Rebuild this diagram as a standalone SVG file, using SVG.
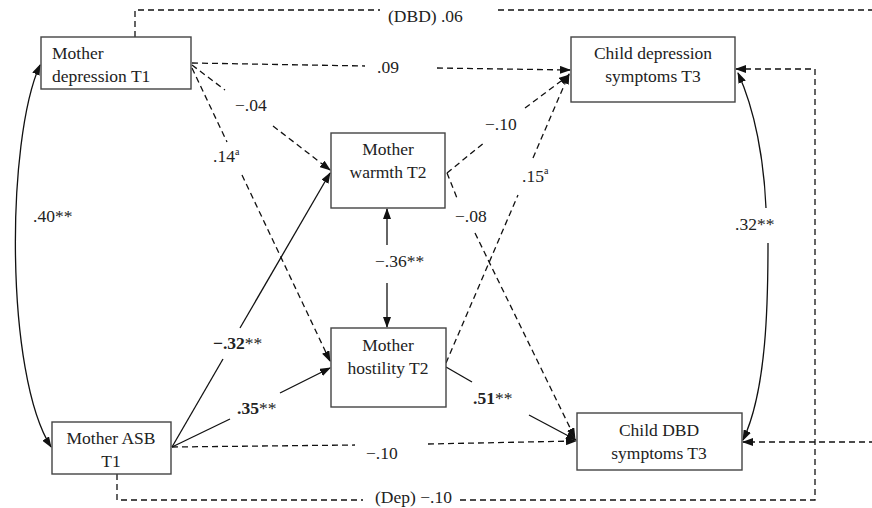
<svg xmlns="http://www.w3.org/2000/svg" width="872" height="508" viewBox="0 0 872 508" font-family="Liberation Serif, Times New Roman, Tinos, serif">
<defs>
<marker id="ah" markerWidth="11" markerHeight="8" refX="10" refY="4" orient="auto-start-reverse" markerUnits="userSpaceOnUse">
<path d="M0,0 L11,4 L0,8 z" fill="#111"/>
</marker>
<style>
.box{fill:#fff;stroke:#444;stroke-width:1.4}
.t{font-size:17.5px;fill:#222}
.c{text-anchor:middle}
.b{font-weight:bold}
.n{font-weight:normal}
.sup{font-size:10px}
.s{fill:none;stroke:#111;stroke-width:1.3}
.d{fill:none;stroke:#111;stroke-width:1.3;stroke-dasharray:6,4}
</style>
</defs>
<rect width="872" height="508" fill="#fff"/>

<g id="connectors">
<path class="d" d="M135 37 V10 H380"/>
<path class="d" d="M498 10 H875"/>
<path class="d" d="M875 442 H743" marker-end="url(#ah)"/>
<path class="d" d="M117 474 V500 H363"/>
<path class="d" d="M460 500 H815 V69 H736" marker-end="url(#ah)"/>
<path class="s" d="M40 65 C6 140, 5 375, 51 447" marker-start="url(#ah)" marker-end="url(#ah)"/>
<path class="s" d="M738 73 C755 110, 764 160, 766 208" marker-start="url(#ah)"/>
<path class="s" d="M768 243 C768 300, 767 390, 743 440" marker-end="url(#ah)"/>
<path class="s" d="M387 245 V209" marker-end="url(#ah)"/>
<path class="s" d="M387 283 V327" marker-end="url(#ah)"/>
<path class="d" d="M192 63 L365 66"/>
<path class="d" d="M437 68 L570 70" marker-end="url(#ah)"/>
<path class="d" d="M192 65 L225 90"/>
<path class="d" d="M273 126 L330 170" marker-end="url(#ah)"/>
<path class="d" d="M192 68 L227 142"/>
<path class="d" d="M242 175 L330 361" marker-end="url(#ah)"/>
<path class="s" d="M172 447 L223 359"/>
<path class="s" d="M240 328 L330 173" marker-end="url(#ah)"/>
<path class="s" d="M172 447 L230 419"/>
<path class="s" d="M280 393 L330 368" marker-end="url(#ah)"/>
<path class="d" d="M172 447 L355 445"/>
<path class="d" d="M428 444 L576 441" marker-end="url(#ah)"/>
<path class="s" d="M446 367 L472 382"/>
<path class="s" d="M529 415 L576 440" marker-end="url(#ah)"/>
<path class="d" d="M447 173 L457 198"/>
<path class="d" d="M475 233 L575 438" marker-end="url(#ah)"/>
<path class="d" d="M447 173 L485 142"/>
<path class="d" d="M525 108 L569 75" marker-end="url(#ah)"/>
<path class="d" d="M446 363 L518 195"/>
<path class="d" d="M533 158 L569 74" marker-end="url(#ah)"/>
</g>

<g id="mother-depression">
<rect class="box" x="41" y="37" width="150" height="52"/>
<text class="t" x="52" y="59">Mother</text>
<text class="t" x="52" y="82">depression T1</text>
</g>
<g id="child-depression">
<rect class="box" x="571" y="37" width="164" height="65"/>
<text class="t c" x="653" y="59">Child depression</text>
<text class="t c" x="653" y="82">symptoms T3</text>
</g>
<g id="mother-warmth">
<rect class="box" x="331" y="133" width="114" height="75"/>
<text class="t c" x="388" y="155">Mother</text>
<text class="t c" x="388" y="178">warmth T2</text>
</g>
<g id="mother-hostility">
<rect class="box" x="331" y="328" width="115" height="79"/>
<text class="t c" x="388" y="351">Mother</text>
<text class="t c" x="388" y="374">hostility T2</text>
</g>
<g id="mother-asb">
<rect class="box" x="52" y="422" width="119" height="52"/>
<text class="t c" x="111" y="444">Mother ASB</text>
<text class="t c" x="111" y="467">T1</text>
</g>
<g id="child-dbd">
<rect class="box" x="577" y="413" width="165" height="57"/>
<text class="t c" x="659" y="436">Child DBD</text>
<text class="t c" x="659" y="459">symptoms T3</text>
</g>

<g id="labels">
<text class="t" x="388" y="22">(DBD) .06</text>
<text class="t" x="375" y="503">(Dep) −.10</text>
<text class="t" x="377" y="73">.09</text>
<text class="t" x="235" y="111">−.04</text>
<text class="t" x="213" y="162">.14<tspan class="sup" dy="-7">a</tspan></text>
<text class="t" x="485" y="130">−.10</text>
<text class="t" x="522" y="182">.15<tspan class="sup" dy="-8">a</tspan></text>
<text class="t" x="455" y="222">−.08</text>
<text class="t" x="375" y="267">−.36**</text>
<text class="t" x="33" y="222">.40**</text>
<text class="t" x="735" y="230">.32**</text>
<text class="t b" x="213" y="349">−.32<tspan class="n">**</tspan></text>
<text class="t b" x="237" y="414">.35<tspan class="n">**</tspan></text>
<text class="t b" x="473" y="404">.51<tspan class="n">**</tspan></text>
<text class="t" x="366" y="459">−.10</text>
</g>
</svg>
